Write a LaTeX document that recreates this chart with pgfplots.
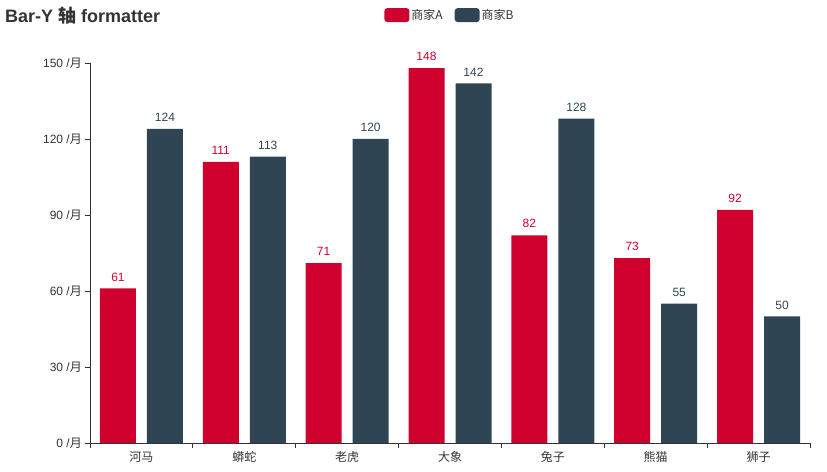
\documentclass[border=0pt]{standalone}
\usepackage{fontspec}
\setmainfont{Liberation Sans}
\newfontfamily\cjk{Noto Sans CJK SC}
\usepackage{pgfplots}
\pgfplotsset{compat=1.18}
\definecolor{cA}{HTML}{D0002E}
\definecolor{cB}{HTML}{2F4554}
\definecolor{txt}{HTML}{333333}
\pgfplotsset{mylegend/.style={legend image code/.code={\fill[##1, rounded corners=3bp] (0bp,-7bp) rectangle (25bp,7bp);}}}
\begin{document}
\begin{tikzpicture}
\useasboundingbox (-90bp,-29bp) rectangle (737bp,443bp);
\node[anchor=west, text=txt, font=\fontsize{18bp}{20bp}\selectfont\bfseries, inner sep=0] at (-85bp,427bp) {Bar-Y {\cjk 轴} formatter};
\begin{axis}[
  at={(0,0)}, anchor=south west,
  scale only axis, width=720bp, height=380bp,
  xmin=-0.5, xmax=6.5, ymin=0, ymax=150,
  axis x line*=bottom, axis y line*=left,
  axis line style={draw=txt, line width=0.8bp},
  ybar, bar width=36bp,
  /pgf/number format/assume math mode=true,
  tick align=outside, major tick length=5bp,
  tick style={draw=txt, line width=0.8bp},
  xtick={-0.5,0.5,...,6.5}, xticklabels={},
  extra x ticks={0,1,2,3,4,5,6},
  extra x tick labels={{\cjk 河马},{\cjk 蟒蛇},{\cjk 老虎},{\cjk 大象},{\cjk 兔子},{\cjk 熊猫},{\cjk 狮子}},
  extra x tick style={major tick length=0pt},
  ytick={0,30,...,150},
  yticklabel={\pgfmathparse{int(round(\tick))}\pgfmathresult\ /{\cjk 月}},
  ticklabel style={font=\fontsize{12bp}{14bp}\selectfont, text=txt},
  yticklabel style={inner sep=0pt, xshift=-3bp},
  xticklabel style={inner sep=0pt, yshift=-8bp},
  nodes near coords,
  every node near coord/.append style={font=\fontsize{12bp}{14bp}\selectfont, inner sep=0pt, anchor=south, yshift=7bp},
  mylegend,
  legend style={at={(0.5,1.126)}, anchor=center, draw=none, fill=none, legend columns=2,
    font=\fontsize{12bp}{14bp}\selectfont\cjk, text=txt,
    /tikz/every even column/.append style={column sep=10bp}},
]
\addplot[fill=cA, draw=none, bar shift=-23.5bp, mylegend, every node near coord/.append style={text=cA}]
  coordinates {(0,61) (1,111) (2,71) (3,148) (4,82) (5,73) (6,92)};
\addplot[fill=cB, draw=none, bar shift=23.5bp, mylegend, every node near coord/.append style={text=cB}]
  coordinates {(0,124) (1,113) (2,120) (3,142) (4,128) (5,55) (6,50)};
\legend{商家A,商家B}
\end{axis}
\end{tikzpicture}
\end{document}
